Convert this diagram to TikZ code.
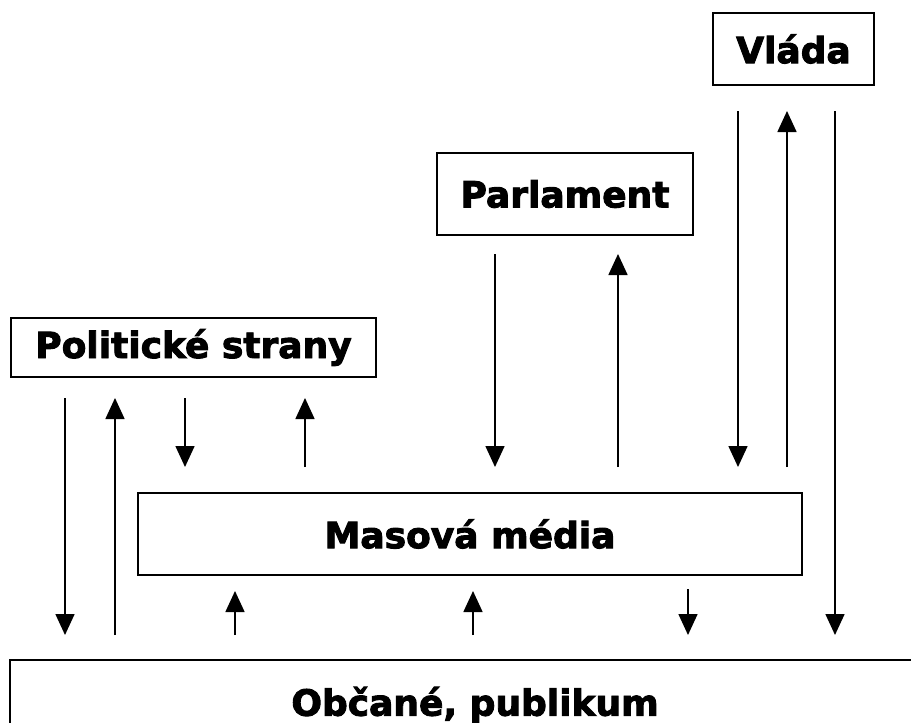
\documentclass[tikz,border=0pt]{standalone}
\usepackage{fontspec}
\setmainfont{DejaVu Sans}
\newfontfamily\heavyfont[FakeBold=2.6]{DejaVu Sans Bold}
\usetikzlibrary{arrows.meta}

\begin{document}
\begin{tikzpicture}[x=1pt, y=-1pt,
		box/.style={draw, rectangle, line width=2pt, inner sep=0pt, font=\heavyfont\fontsize{36}{40}\selectfont},
		arr/.style={line width=1.6pt, -{Triangle[width=19pt, length=21pt]}}]
				\useasboundingbox (0,0) rectangle (911,723);
				\clip (0,0) rectangle (911,723);

				% Government
				\node[box, minimum width=161pt, minimum height=72pt] (vlada) at (793.5,49) {Vláda};

				% Parliament
				\node[box, minimum width=256pt, minimum height=82pt] (parlament) at (565,194) {Parlament};

				% Political parties
				\node[box, minimum width=365pt, minimum height=59pt] (strany) at (193.5,347.5) {Politické strany};

				% Mass media
				\node[box, minimum width=664pt, minimum height=82pt] (media) at (470,534) {Masová média};

				% Citizens (box runs off the page)
				\node[box, minimum width=930pt, minimum height=90pt] (obcane) at (475,705) {Občané, publikum};

				% Parties <-> citizens
				\draw[arr, shorten <=20pt, shorten >=24pt] (strany.south -| 65,0) -- (obcane.north -| 65,0);
				\draw[arr, shorten <=24pt, shorten >=20pt] (obcane.north -| 115,0) -- (strany.south -| 115,0);

				% Parties <-> media
				\draw[arr, shorten <=20pt, shorten >=25pt] (strany.south -| 185,0) -- (media.north -| 185,0);
				\draw[arr, shorten <=25pt, shorten >=20pt] (media.north -| 305,0) -- (strany.south -| 305,0);

				% Parliament <-> media
				\draw[arr, shorten <=18pt, shorten >=25pt] (parlament.south -| 495,0) -- (media.north -| 495,0);
				\draw[arr, shorten <=25pt, shorten >=18pt] (media.north -| 618,0) -- (parlament.south -| 618,0);

				% Government <-> media, citizens
				\draw[arr, shorten <=25pt, shorten >=25pt] (vlada.south -| 738,0) -- (media.north -| 738,0);
				\draw[arr, shorten <=25pt, shorten >=25pt] (media.north -| 787,0) -- (vlada.south -| 787,0);
				\draw[arr, shorten <=25pt, shorten >=24pt] (vlada.south -| 835,0) -- (obcane.north -| 835,0);

				% Media <-> citizens
				\draw[arr, shorten <=24pt, shorten >=15pt] (obcane.north -| 235,0) -- (media.south -| 235,0);
				\draw[arr, shorten <=24pt, shorten >=15pt] (obcane.north -| 473,0) -- (media.south -| 473,0);
				\draw[arr, shorten <=13pt, shorten >=24pt] (media.south -| 688,0) -- (obcane.north -| 688,0);
			\end{tikzpicture}
\end{document}
